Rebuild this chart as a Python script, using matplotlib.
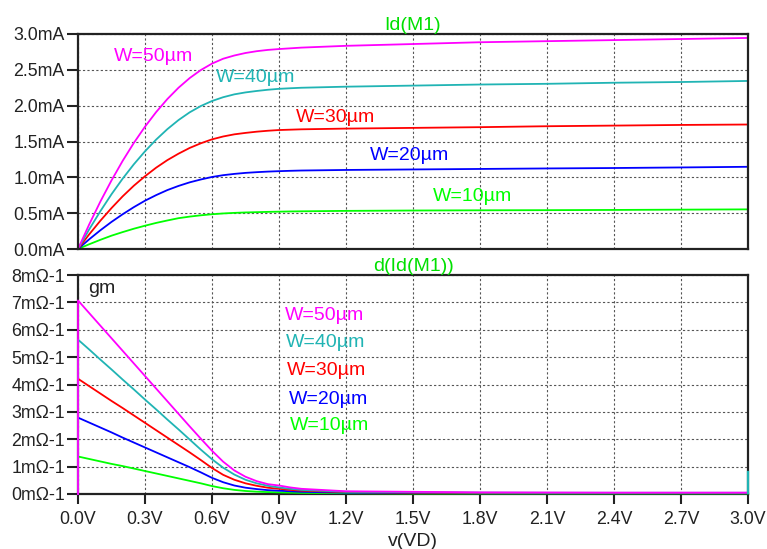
import matplotlib
matplotlib.use("Agg")
import matplotlib.pyplot as plt
from matplotlib.ticker import FixedLocator, FixedFormatter

plt.rcParams['font.family'] = ['Liberation Sans', 'DejaVu Sans']

# Drain voltage sweep (V)
vd = [0.00, 0.05, 0.10, 0.15, 0.20, 0.25, 0.30, 0.35, 0.40, 0.45, 0.50,
      0.55, 0.60, 0.65, 0.70, 0.75, 0.80, 0.85, 0.90, 0.95, 1.00,
      1.20, 1.50, 1.80, 2.10, 2.40, 2.70, 3.00]

# Drain current Id(M1) in mA for each channel width
id_w10 = [0.0, 0.066, 0.128, 0.186, 0.236, 0.283, 0.325, 0.364, 0.398, 0.43, 0.452,
          0.47, 0.485, 0.496, 0.504, 0.51, 0.514, 0.518, 0.521, 0.524, 0.526,
          0.532, 0.537, 0.54, 0.542, 0.545, 0.549, 0.553]
id_w20 = [0.0, 0.135, 0.261, 0.378, 0.485, 0.584, 0.674, 0.752, 0.822, 0.88, 0.93,
          0.97, 1.005, 1.03, 1.048, 1.062, 1.072, 1.08, 1.086, 1.091, 1.095,
          1.103, 1.11, 1.117, 1.124, 1.13, 1.138, 1.147]
id_w30 = [0.0, 0.204, 0.394, 0.571, 0.735, 0.883, 1.015, 1.135, 1.24, 1.33, 1.41,
          1.475, 1.53, 1.57, 1.60, 1.62, 1.637, 1.65, 1.66, 1.665, 1.67,
          1.68, 1.69, 1.70, 1.713, 1.722, 1.731, 1.737]
id_w40 = [0.0, 0.273, 0.527, 0.764, 0.982, 1.182, 1.363, 1.527, 1.672, 1.799, 1.907,
          1.995, 2.065, 2.118, 2.158, 2.185, 2.205, 2.222, 2.235, 2.243, 2.25,
          2.265, 2.28, 2.295, 2.305, 2.32, 2.33, 2.345]
id_w50 = [0.0, 0.342, 0.661, 0.957, 1.23, 1.48, 1.707, 1.911, 2.092, 2.25, 2.385,
          2.497, 2.587, 2.655, 2.70, 2.735, 2.76, 2.778, 2.79, 2.80, 2.81,
          2.835, 2.86, 2.885, 2.90, 2.915, 2.93, 2.945]

# Output conductance d(Id(M1)) in mS; the trace starts from 0 at 0 V
vd_gm = [0.0] + vd
gm_w10 = [0.0, 1.37, 1.28, 1.19, 1.10, 1.02, 0.93, 0.84, 0.75, 0.66, 0.57, 0.48,
          0.39, 0.29, 0.21, 0.15, 0.11, 0.085, 0.07, 0.06, 0.05, 0.04,
          0.03, 0.02, 0.02, 0.02, 0.02, 0.02, 0.02]
gm_w20 = [0.0, 2.79, 2.61, 2.43, 2.25, 2.06, 1.88, 1.70, 1.52, 1.34, 1.16, 0.98,
          0.79, 0.59, 0.43, 0.31, 0.23, 0.18, 0.14, 0.12, 0.10, 0.08,
          0.05, 0.035, 0.03, 0.03, 0.03, 0.03, 0.03]
gm_w30 = [0.0, 4.21, 3.94, 3.67, 3.40, 3.14, 2.87, 2.60, 2.33, 2.06, 1.79, 1.52,
          1.24, 0.95, 0.70, 0.52, 0.39, 0.30, 0.23, 0.19, 0.15, 0.12,
          0.07, 0.05, 0.04, 0.04, 0.04, 0.04, 0.04]
gm_w40 = [0.0, 5.64, 5.28, 4.91, 4.55, 4.18, 3.82, 3.45, 3.09, 2.72, 2.36, 1.99,
          1.62, 1.27, 0.96, 0.71, 0.52, 0.39, 0.30, 0.24, 0.19, 0.15,
          0.08, 0.065, 0.05, 0.045, 0.045, 0.045, 0.045]
gm_w50 = [0.0, 7.07, 6.61, 6.15, 5.69, 5.23, 4.77, 4.31, 3.85, 3.39, 2.93, 2.47,
          2.02, 1.58, 1.18, 0.86, 0.63, 0.47, 0.36, 0.31, 0.24, 0.19,
          0.10, 0.08, 0.06, 0.055, 0.05, 0.05, 0.05]
# last-point step of the W=40um derivative trace
gm_w40_end_v = [3.0, 3.0]
gm_w40_end = [0.045, 0.8]

widths = ["W=10µm", "W=20µm", "W=30µm", "W=40µm", "W=50µm"]
colors = ["#00ff00", "#0000ff", "#ff0000", "#20b4b4", "#ff00ff"]
id_traces = [id_w10, id_w20, id_w30, id_w40, id_w50]
gm_traces = [gm_w10, gm_w20, gm_w30, gm_w40, gm_w50]

# Tick positions and labels
x_ticks = [0.0, 0.3, 0.6, 0.9, 1.2, 1.5, 1.8, 2.1, 2.4, 2.7, 3.0]
x_labels = ["0.0V", "0.3V", "0.6V", "0.9V", "1.2V", "1.5V", "1.8V", "2.1V", "2.4V", "2.7V", "3.0V"]
id_ticks = [0.0, 0.5, 1.0, 1.5, 2.0, 2.5, 3.0]
id_labels = ["0.0mA", "0.5mA", "1.0mA", "1.5mA", "2.0mA", "2.5mA", "3.0mA"]
gm_ticks = [0, 1, 2, 3, 4, 5, 6, 7, 8]
gm_labels = ["%dmΩ-1" % t for t in gm_ticks]

# Label anchor points (data coordinates)
id_label_pos = [(1.59, 0.73), (1.308, 1.30), (0.976, 1.84), (0.618, 2.39), (0.161, 2.68)]
gm_label_pos = [(0.95, 2.51), (0.945, 3.46), (0.937, 4.52), (0.932, 5.54), (0.927, 6.53)]

W, H = 767, 549
fig = plt.figure(figsize=(W / 100, H / 100), dpi=100)
ax1 = fig.add_axes([78 / W, 1 - 249 / H, 670 / W, 215 / H])
ax2 = fig.add_axes([78 / W, 1 - 494 / H, 670 / W, 219 / H])

tick_fs = 12.8
lab_fs = 14
grid_kw = dict(color="#555555", linestyle=(0, (2, 2)), linewidth=0.8)

for ax in (ax1, ax2):
    ax.set_xlim(0, 3.0)
    ax.xaxis.set_major_locator(FixedLocator(x_ticks))
    ax.grid(True, **grid_kw)
    ax.set_axisbelow(True)
    for s in ax.spines.values():
        s.set_linewidth(1.6)
        s.set_color("#222222")
    ax.tick_params(axis="y", direction="out", length=8, width=1.5, pad=1.5,
                   labelsize=tick_fs, colors="#222222")

# Top pane: drain current
for y, c in zip(id_traces, colors):
    ax1.plot(vd, y, color=c, linewidth=1.3, solid_joinstyle="round")
ax1.set_ylim(0, 3.0)
ax1.yaxis.set_major_locator(FixedLocator(id_ticks))
ax1.yaxis.set_major_formatter(FixedFormatter(id_labels))
ax1.tick_params(axis="x", length=0, labelbottom=False)
for (x, y), t, c in zip(id_label_pos, widths, colors):
    ax1.text(x, y, t, color=c, fontsize=lab_fs, ha="left", va="center")
ax1.text(0.5, 1.0, "Id(M1)", transform=ax1.transAxes, color="#00e000",
         fontsize=lab_fs, ha="center", va="bottom")

# Bottom pane: derivative
for y, c in zip(gm_traces, colors):
    ax2.plot(vd_gm, y, color=c, linewidth=1.3, solid_joinstyle="round",
             clip_on=False, zorder=3)
ax2.plot(gm_w40_end_v, gm_w40_end, color=colors[3], linewidth=1.6,
         clip_on=False, zorder=3)
ax2.set_ylim(0, 8)
ax2.yaxis.set_major_locator(FixedLocator(gm_ticks))
ax2.yaxis.set_major_formatter(FixedFormatter(gm_labels))
ax2.xaxis.set_major_formatter(FixedFormatter(x_labels))
ax2.tick_params(axis="x", direction="out", length=7, width=1.5, pad=5.5,
                labelsize=tick_fs, colors="#222222")
for (x, y), t, c in zip(gm_label_pos, widths, colors):
    ax2.text(x, y, t, color=c, fontsize=lab_fs, ha="left", va="center")
ax2.text(0.045, 7.52, "gm", color="#222222", fontsize=lab_fs, ha="left", va="center")
ax2.text(0.5, 1.0, "d(Id(M1))", transform=ax2.transAxes, color="#00e000",
         fontsize=lab_fs, ha="center", va="bottom")
ax2.set_xlabel("v(VD)", fontsize=lab_fs, color="#222222", labelpad=3)

fig.savefig("out.png", dpi=100, facecolor="white")
